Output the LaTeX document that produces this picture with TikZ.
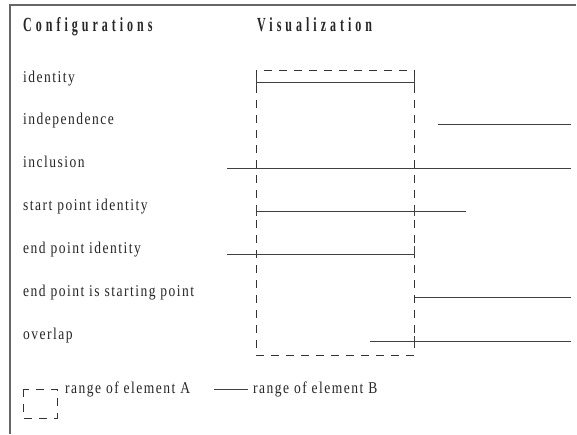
\documentclass[tikz,border=0pt]{standalone}
\usepackage{fontspec}
\setmainfont{Liberation Serif}
\newfontfamily\bodyf{Liberation Serif}[FakeStretch=0.82,LetterSpace=9]
\newfontfamily\headf{Liberation Serif}[FakeStretch=0.6,LetterSpace=20]
\begin{document}
\begin{tikzpicture}[x=1pt,y=-1pt,
  lbl/.style={anchor=base west,inner sep=0pt,font=\bodyf\fontsize{16.5}{19}\selectfont,text=black!85},
  hd/.style={anchor=base west,inner sep=0pt,font=\headf\bfseries\fontsize{20}{22}\selectfont,text=black!85},
  rangeB/.style={draw=black!75,line width=0.8pt},
  rangeA/.style={draw=black!80,line width=0.8pt,dash pattern=on 8pt off 7pt},
  tick/.style={draw=black!75,line width=0.8pt},
  frame/.style={draw=black!60,line width=1.2pt}]
\useasboundingbox (0,0) rectangle (577,434);
\fill[white] (0,0) rectangle (577,434);
% frame
\draw[frame] (576,5) -- (10,5) -- (10,434);
% headings
\node[hd] (hconf) at (23,31) {Configurations};
\node[hd] (hvis) at (257,31) {Visualization};
% row labels
\node[lbl] (r1) at (23,82) {identity};
\node[lbl] (r2) at (23,124) {independence};
\node[lbl] (r3) at (23,167) {inclusion};
\node[lbl] (r4) at (23,210) {start point identity};
\node[lbl] (r5) at (23,253) {end point identity};
\node[lbl] (r6) at (23,296) {end point is starting point};
\node[lbl] (r7) at (23,339) {overlap};
% range of element A (dashed box)
\coordinate (A1) at (256,70);
\coordinate (A2) at (414,355);
\draw[rangeA] (A1) rectangle (A2);
% identity
\draw[rangeB] (256,82) -- (414,82);
\draw[tick] (256,77) -- (256,86);
\draw[tick] (414,77) -- (414,87);
% independence
\draw[rangeB] (438,124) -- (571,124);
% inclusion
\draw[rangeB] (227,168) -- (571,168);
% start point identity
\draw[rangeB] (256,211) -- (466,211);
\draw[tick] (256,206) -- (256,216);
\draw[tick] (414,206) -- (414,216);
% end point identity
\draw[rangeB] (227,254) -- (414,254);
\draw[tick] (414,246) -- (414,255);
% end point is starting point
\draw[rangeB] (415,297) -- (571,297);
% overlap
\draw[rangeB] (370,341) -- (571,341);
\draw[tick] (414,336) -- (414,346);
% legend
\draw[rangeA] (23,389) rectangle (57,418);
\node[lbl] (legA) at (65,393) {range of element A};
\coordinate (lb1) at (214,389);
\coordinate (lb2) at (248,389);
\draw[rangeB] (lb1) -- (lb2);
\node[lbl] (legB) at (253,393) {range of element B};
\end{tikzpicture}
\end{document}
